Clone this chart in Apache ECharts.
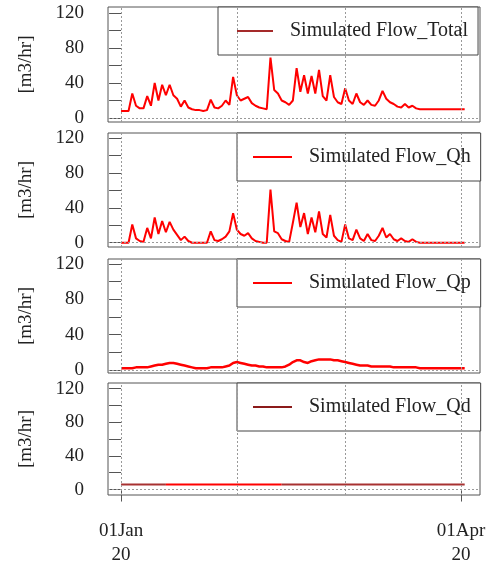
<!DOCTYPE html>
<html lang="en">
<head>
  <meta charset="UTF-8">
  <title>Simulated Flow</title>
  <script src="https://cdn.jsdelivr.net/npm/echarts@6/dist/echarts.min.js"></script>
  <style>html,body{margin:0;padding:0;background:#fff}</style>
</head>
<body>
  <div id="chart" style="width:497px;height:567px"></div>

  <script>
    // day 0 = 01 Jan 2020, one value per day up to 02 Apr
    const flowTotal = [8,8,8,28,14,11,11,25,14,40, 20,38,26,38,26,22,13,20,12,10,
      9,9,8,9,21,12,11,14,20,15, 47,26,20,22,24,17,14,12,11,10,
      69,32,28,20,18,15,20,57,30,49, 28,48,28,55,25,20,49,24,18,16,
      34,20,16,28,18,15,20,15,14,20, 31,22,18,16,13,12,16,12,14,11,
      10,10,10,10,10,10,10,10,10,10, 10,10,10]
    const flowQh = [0,0,0,21,5,2,1,17,5,29, 10,25,12,24,15,9,3,7,2,0,
      0,0,0,0,13,3,2,4,7,13, 34,15,10,8,11,5,2,1,0,0,
      61,13,11,4,2,1,23,46,18,34, 10,29,12,36,10,6,32,8,3,1,
      21,5,3,15,5,2,10,3,2,8, 17,6,10,4,2,5,2,1,4,1,
      0,0,0,0,0,0,0,0,0,0, 0,0,0]
    const flowQp = [2,2,2,2,3,3,3,3,4,5, 6,6,7,8,8,7,6,5,4,3,
      2,2,2,2,3,3,3,3,4,5, 8,9,8,7,6,5,5,4,4,3,
      3,3,3,3,4,6,9,11,11,9, 8,10,11,12,12,12,12,11,11,10,
      9,8,7,6,5,5,5,4,4,4, 4,4,4,3,3,3,3,3,3,3,
      2,2,2,2,2,2,2,2,2,2, 2,2,2]
    const flowQd = [6,6,6,6,6,6,6,6,6,6, 6,6,6,6,6,6,6,6,6,6,
      6,6,6,6,6,6,6,6,6,6, 6,6,6,6,6,6,6,6,6,6,
      6,6,6,6,6,6,6,6,6,6, 6,6,6,6,6,6,6,6,6,6,
      6,6,6,6,6,6,6,6,6,6, 6,6,6,6,6,6,6,6,6,6,
      6,6,6,6,6,6,6,6,6,6, 6,6,6]

    const seriesNames = ['Simulated Flow_Total', 'Simulated Flow_Qh', 'Simulated Flow_Qp', 'Simulated Flow_Qd']
    const seriesValues = [flowTotal, flowQh, flowQp, flowQd]
    const legendColors = ['#a52a2a', '#ff0000', '#ff0000', '#8b1a1a']
    const monthStarts = [0, 31, 60, 91]
    const xTickDays = [0, 91]
    const xTickLabels = ['01Jan\n20', '01Apr\n20']
    const yTicks = [0, 20, 40, 60, 80, 100, 120]
    const yLabels = [0, 40, 80, 120]
    // Qd is drawn dark red before 12 Jan and after 12 Feb, red in between
    const qdBreaks = [0, 12, 43, 92]
    const qdColors = ['#a83232', '#ff0000', '#a83232']

    // panel boxes (px) and value range shown inside each box
    const panels = [
      {top: 7, height: 115, min: -4.6, max: 126.9, legendLeft: 218, legendTop: 7},
      {top: 133, height: 114, min: -4.9, max: 126, legendLeft: 237, legendTop: 133},
      {top: 259, height: 114, min: -3.4, max: 125.7, legendLeft: 237, legendTop: 259},
      {top: 383, height: 117, min: -6.5, max: 126.8, legendLeft: 237, legendTop: 383}
    ]

    const serif = '"Liberation Serif", "DejaVu Serif", serif'
    const chart = echarts.init(document.getElementById('chart'))

    // Qh goes dark red where it sits on zero
    const qhMax = Math.max(...flowQh)
    const qhColor = new echarts.graphic.LinearGradient(0, 0, 0, 1, [
      {offset: 0, color: '#ff0000'},
      {offset: 1 - 0.8 / qhMax, color: '#ff0000'},
      {offset: 1 - 0.8 / qhMax, color: '#8b1a1a'},
      {offset: 1, color: '#8b1a1a'}
    ])

    const grid = [], xAxis = [], yAxis = [], series = [], legend = []
    panels.forEach((p, i) => {
      const last = i === panels.length - 1
      grid.push({left: 108, width: 372, top: p.top, height: p.height,
        show: true, borderColor: '#555', borderWidth: 1, backgroundColor: 'transparent'})
      xAxis.push({
        type: 'value', gridIndex: i, min: -3.5, max: 96.1,
        axisLine: {show: false},
        splitLine: {show: false},
        axisTick: {show: last, length: 12, lineStyle: {color: '#555'}, customValues: xTickDays},
        axisLabel: {show: last, customValues: xTickDays, margin: 24,
          fontFamily: serif, fontSize: 19, lineHeight: 24, color: '#222',
          formatter: v => xTickLabels[xTickDays.indexOf(v)] || ''}
      })
      yAxis.push({
        type: 'value', gridIndex: i, min: p.min, max: p.max,
        name: '[m3/hr]', nameLocation: 'middle', nameGap: 72,
        nameTextStyle: {fontFamily: serif, fontSize: 19, color: '#222'},
        axisLine: {show: false},
        splitLine: {show: false},
        axisTick: {show: true, length: 12, lineStyle: {color: '#555'}, customValues: yTicks},
        axisLabel: {customValues: yLabels, margin: 24, fontFamily: serif, fontSize: 19, color: '#222'}
      })
      const points = seriesValues[i].map((v, d) => [d, v])
      const guides = {
        silent: true, symbol: 'none', label: {show: false},
        lineStyle: {color: '#999', type: [2, 2], width: 1},
        data: monthStarts.map(d => ({xAxis: d})).concat([{yAxis: 0}])
      }
      if (i < 3) {
        series.push({
          name: seriesNames[i], type: 'line', xAxisIndex: i, yAxisIndex: i,
          data: points, symbol: 'none', color: '#ff0000',
          lineStyle: {width: i === 2 ? 2.5 : 2, color: i === 1 ? qhColor : '#ff0000'},
          markLine: guides
        })
      } else {
        qdColors.forEach((c, k) => {
          series.push({
            name: seriesNames[i], type: 'line', xAxisIndex: i, yAxisIndex: i,
            data: points.slice(qdBreaks[k], qdBreaks[k + 1] + 1),
            symbol: 'none', color: c, lineStyle: {width: 2, color: c},
            markLine: k === 0 ? guides : undefined
          })
        })
      }
      legend.push({
        left: p.legendLeft, top: p.legendTop,
        padding: i === 0 ? [14, 10, 14, 19] : [14, 10, 14, 16],
        backgroundColor: '#fff', borderColor: '#444', borderWidth: 1, borderRadius: 0,
        icon: 'rect', itemWidth: i === 0 ? 36 : 39, itemHeight: 2,
        selectedMode: false,
        textStyle: {fontFamily: serif, fontSize: 20, color: '#222', padding: [0, 0, 0, 12]},
        data: [{name: seriesNames[i], itemStyle: {color: legendColors[i]}}]
      })
    })

    chart.setOption({
      animation: false,
      grid, xAxis, yAxis, series, legend
    })
  </script>
</body>
</html>
